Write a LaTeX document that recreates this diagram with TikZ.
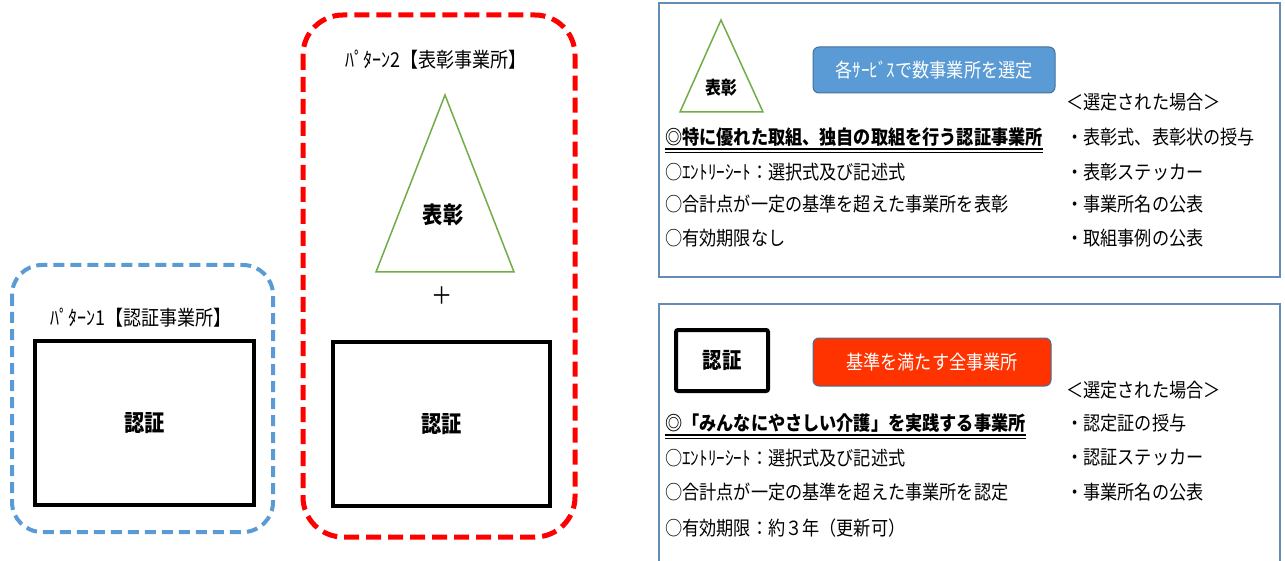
\documentclass[tikz,border=0pt]{standalone}
\usepackage{fontspec}
\setmainfont{Noto Sans CJK JP}[FakeStretch=0.88]

\definecolor{patblue}{RGB}{91,155,213}
\definecolor{patred}{RGB}{255,0,0}
\definecolor{trigreen}{RGB}{112,173,71}
\definecolor{panelline}{RGB}{100,140,180}
\definecolor{btnedge}{RGB}{65,113,156}
\definecolor{btnred}{RGB}{255,51,0}

\tikzset{
  lbl/.style={inner sep=0pt, font=\fontsize{19.5}{22}\selectfont},
  body/.style={lbl, anchor=west},
  big/.style={inner sep=0pt, font=\fontsize{23}{26}\selectfont\bfseries},
  btn/.style={draw=btnedge, line width=1pt, rounded corners=6pt, text=white,
    font=\fontsize{19.5}{22}\selectfont}
}

\begin{document}
\begin{tikzpicture}[x=1pt,y=-1pt]
  \useasboundingbox (0,0) rectangle (1285,561);

  % pattern 1
  \draw[patblue, line width=4pt, dash pattern=on 11pt off 6pt, rounded corners=30pt]
    (12,265) rectangle (273,532);
  \node[lbl, font=\fontsize{20.5}{22}\selectfont] (pat1) at (141,318) {ﾊﾟﾀｰﾝ1【認証事業所】};
  \node[draw, line width=4pt, minimum width=219pt, minimum height=164pt, big] (nin1) at (144.5,423) {認証};

  % pattern 2
  \draw[patred, line width=5pt, dash pattern=on 15pt off 7pt, rounded corners=40pt]
    (303,15) rectangle (575,537);
  \node[lbl, font=\fontsize{20.5}{22}\selectfont] (pat2) at (436,60) {ﾊﾟﾀｰﾝ2【表彰事業所】};
  \draw[trigreen, line width=1.5pt] (445,95) -- (514,272) -- (376,272) -- cycle;
  \node[big] (hyo2) at (443,215) {表彰};
  \node[lbl, font=\fontsize{24}{26}\selectfont] (plus) at (442,296) {＋};
  \node[draw, line width=4pt, minimum width=217pt, minimum height=164pt, big] (nin2) at (441.5,424) {認証};

  %=================================================
  % upper panel
  \draw[panelline, line width=1.2pt] (659,3) rectangle (1280,277);
  \draw[trigreen, line width=1.5pt] (721,20) -- (763,112) -- (680,112) -- cycle;
  \node[inner sep=0pt, font=\fontsize{18}{20}\selectfont\bfseries] (hyo3) at (721,88) {表彰};
  \node[btn, fill=patblue, minimum width=242pt, minimum height=46pt] (sentei) at (934,70)
    {各ｻｰﾋﾞｽで数事業所を選定};

  \node[body, font=\fontsize{19.5}{22}\selectfont\bfseries] (ua) at (665,137) {◎特に優れた取組、独自の取組を行う認証事業所};
  \draw[line width=2pt] ([yshift=-2.5pt]ua.south west) -- ([yshift=-2.5pt]ua.south east);
  \draw[line width=0.8pt] ([yshift=-5.5pt]ua.south west) -- ([yshift=-5.5pt]ua.south east);
  \node[body] (ub) at (665,172) {○ｴﾝﾄﾘｰｼｰﾄ：選択式及び記述式};
  \node[body] (uc) at (665,204) {○合計点が一定の基準を超えた事業所を表彰};
  \node[body] (ud) at (665,238) {○有効期限なし};

  \node[body] (ur0) at (1066,102) {＜選定された場合＞};
  \node[body] (ur1) at (1066,137) {・表彰式、表彰状の授与};
  \node[body] (ur2) at (1066,172) {・表彰ステッカー};
  \node[body] (ur3) at (1066,204) {・事業所名の公表};
  \node[body] (ur4) at (1066,238) {・取組事例の公表};

  %=================================================
  % lower panel
  \draw[panelline, line width=1.2pt] (659,562) -- (659,304) -- (1280,304) -- (1280,562);
  \node[draw, line width=4pt, rounded corners=2pt, minimum width=92pt, minimum height=61pt,
    inner sep=0pt, font=\fontsize{22}{24}\selectfont\bfseries] (nin3) at (722,360.5) {認証};
  \node[btn, fill=btnred, minimum width=238pt, minimum height=48pt] (zen) at (932,362)
    {基準を満たす全事業所};

  \node[body, font=\fontsize{19.5}{22}\selectfont\bfseries] (la) at (665,423) {◎「みんなにやさしい介護」を実践する事業所};
  \draw[line width=2pt] ([yshift=-2.5pt]la.south west) -- ([yshift=-2.5pt]la.south east);
  \draw[line width=0.8pt] ([yshift=-5.5pt]la.south west) -- ([yshift=-5.5pt]la.south east);
  \node[body] (lb) at (665,458) {○ｴﾝﾄﾘｰｼｰﾄ：選択式及び記述式};
  \node[body] (lc) at (665,492) {○合計点が一定の基準を超えた事業所を認定};
  \node[body] (ld) at (665,528) {○有効期限：約３年（更新可）};

  \node[body] (lr0) at (1066,390) {＜選定された場合＞};
  \node[body] (lr1) at (1066,423) {・認定証の授与};
  \node[body] (lr2) at (1066,457) {・認証ステッカー};
  \node[body] (lr3) at (1066,492) {・事業所名の公表};

\end{tikzpicture}
\end{document}
